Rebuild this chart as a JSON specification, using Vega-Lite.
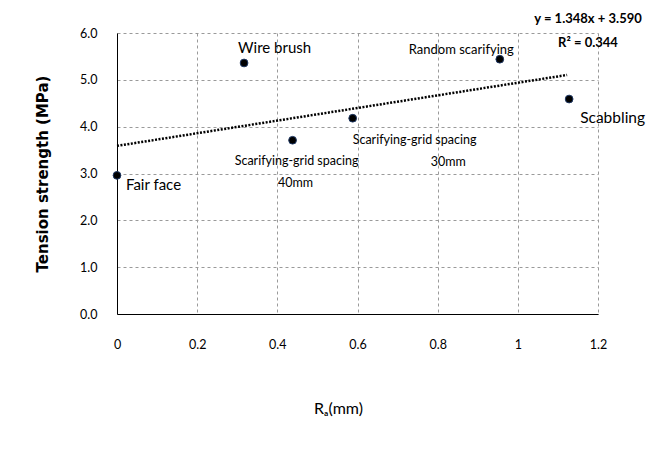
{
  "$schema": "https://vega.github.io/schema/vega-lite/v6.json",
  "autosize": "none",
  "width": 481,
  "height": 281,
  "padding": {"left": 117, "top": 33, "right": 58, "bottom": 140},
  "background": "white",
  "datasets": {
    "points": [
      {"surface": "Fair face", "ra": 0, "ts": 2.96, "line1": "Fair face", "line2": ""},
      {"surface": "Wire brush", "ra": 0.317, "ts": 5.36, "line1": "Wire brush", "line2": ""},
      {"surface": "Scarifying-grid spacing 40mm", "ra": 0.438, "ts": 3.71, "line1": "Scarifying-grid spacing", "line2": "40mm"},
      {"surface": "Scarifying-grid spacing 30mm", "ra": 0.588, "ts": 4.18, "line1": "Scarifying-grid spacing", "line2": "30mm"},
      {"surface": "Random scarifying", "ra": 0.955, "ts": 5.44, "line1": "Random scarifying", "line2": ""},
      {"surface": "Scabbling", "ra": 1.128, "ts": 4.59, "line1": "Scabbling", "line2": ""}
    ],
    "trend": [
      {"ra": 0, "ts": 3.59},
      {"ra": 1.123, "ts": 5.104}
    ]
  },
  "title": {
    "text": ["y = 1.348x + 3.590", "R² = 0.344"],
    "anchor": "end",
    "frame": "group",
    "align": "center",
    "dx": -10,
    "offset": -23,
    "font": "Lato",
    "fontSize": 13,
    "fontWeight": "bold",
    "lineHeight": 24,
    "color": "black"
  },
  "encoding": {
    "x": {
      "field": "ra",
      "type": "quantitative",
      "scale": {"domain": [0, 1.2], "nice": false, "zero": true},
      "axis": {
        "title": "Rₐ(mm)",
        "values": [0, 0.2, 0.4, 0.6, 0.8, 1, 1.2],
        "format": "~g",
        "labelFlush": false,
        "labelPadding": 24,
        "titlePadding": 50,
        "titleX": 221,
        "titleFontSize": 16,
        "titleFontWeight": "normal",
        "titleFont": "Lato"
      }
    },
    "y": {
      "field": "ts",
      "type": "quantitative",
      "scale": {"domain": [0, 6], "nice": false},
      "axis": {
        "title": "Tension strength (MPa)",
        "values": [0, 1, 2, 3, 4, 5, 6],
        "format": ".1f",
        "labelFlush": false,
        "labelPadding": 20,
        "titlePadding": 29,
        "titleFontSize": 15,
        "titleFontWeight": "bold",
        "titleFont": "DejaVu Sans"
      }
    }
  },
  "layer": [
    {
      "data": {"name": "trend"},
      "mark": {"type": "line", "color": "black", "strokeWidth": 2.5, "strokeDash": [2, 1.5]}
    },
    {
      "data": {"name": "points"},
      "mark": {"type": "point", "filled": true, "size": 60, "fill": "black", "stroke": "#1f3864", "strokeWidth": 1, "opacity": 1, "shape": "circle"}
    },
    {
      "data": {"name": "points"},
      "transform": [{"filter": "datum.surface === 'Fair face'"}],
      "mark": {"type": "text", "align": "left", "baseline": "middle", "dx": 9, "dy": 10, "fontSize": 15, "font": "Lato", "color": "black"},
      "encoding": {"text": {"field": "line1"}}
    },
    {
      "data": {"name": "points"},
      "transform": [{"filter": "datum.surface === 'Wire brush'"}],
      "mark": {"type": "text", "align": "left", "baseline": "middle", "dx": -6, "dy": -15, "fontSize": 15, "font": "Lato", "color": "black"},
      "encoding": {"text": {"field": "line1"}}
    },
    {
      "data": {"name": "points"},
      "transform": [{"filter": "datum.surface === 'Scarifying-grid spacing 40mm'"}],
      "mark": {"type": "text", "align": "center", "baseline": "middle", "dx": 4, "dy": 21, "fontSize": 12.5, "font": "Lato", "color": "black"},
      "encoding": {"text": {"field": "line1"}}
    },
    {
      "data": {"name": "points"},
      "transform": [{"filter": "datum.surface === 'Scarifying-grid spacing 40mm'"}],
      "mark": {"type": "text", "align": "center", "baseline": "middle", "dx": 3, "dy": 43, "fontSize": 12.5, "font": "Lato", "color": "black"},
      "encoding": {"text": {"field": "line2"}}
    },
    {
      "data": {"name": "points"},
      "transform": [{"filter": "datum.surface === 'Scarifying-grid spacing 30mm'"}],
      "mark": {"type": "text", "align": "left", "baseline": "middle", "dx": 0, "dy": 22, "fontSize": 12.5, "font": "Lato", "color": "black"},
      "encoding": {"text": {"field": "line1"}}
    },
    {
      "data": {"name": "points"},
      "transform": [{"filter": "datum.surface === 'Scarifying-grid spacing 30mm'"}],
      "mark": {"type": "text", "align": "left", "baseline": "middle", "dx": 78, "dy": 44, "fontSize": 12.5, "font": "Lato", "color": "black"},
      "encoding": {"text": {"field": "line2"}}
    },
    {
      "data": {"name": "points"},
      "transform": [{"filter": "datum.surface === 'Random scarifying'"}],
      "mark": {"type": "text", "align": "right", "baseline": "middle", "dx": 14, "dy": -9, "fontSize": 13, "font": "Lato", "color": "black"},
      "encoding": {"text": {"field": "line1"}}
    },
    {
      "data": {"name": "points"},
      "transform": [{"filter": "datum.surface === 'Scabbling'"}],
      "mark": {"type": "text", "align": "left", "baseline": "middle", "dx": 11, "dy": 19, "fontSize": 15.5, "font": "Lato", "color": "black"},
      "encoding": {"text": {"field": "line1"}}
    }
  ],
  "config": {
    "view": {"stroke": null},
    "axis": {
      "domainColor": "black",
      "domainWidth": 1,
      "ticks": false,
      "grid": true,
      "gridColor": "#9a9a9a",
      "gridDash": [3, 3],
      "gridWidth": 1,
      "labelFont": "Lato",
      "labelFontSize": 12.5,
      "labelColor": "black",
      "titleColor": "black"
    }
  }
}
